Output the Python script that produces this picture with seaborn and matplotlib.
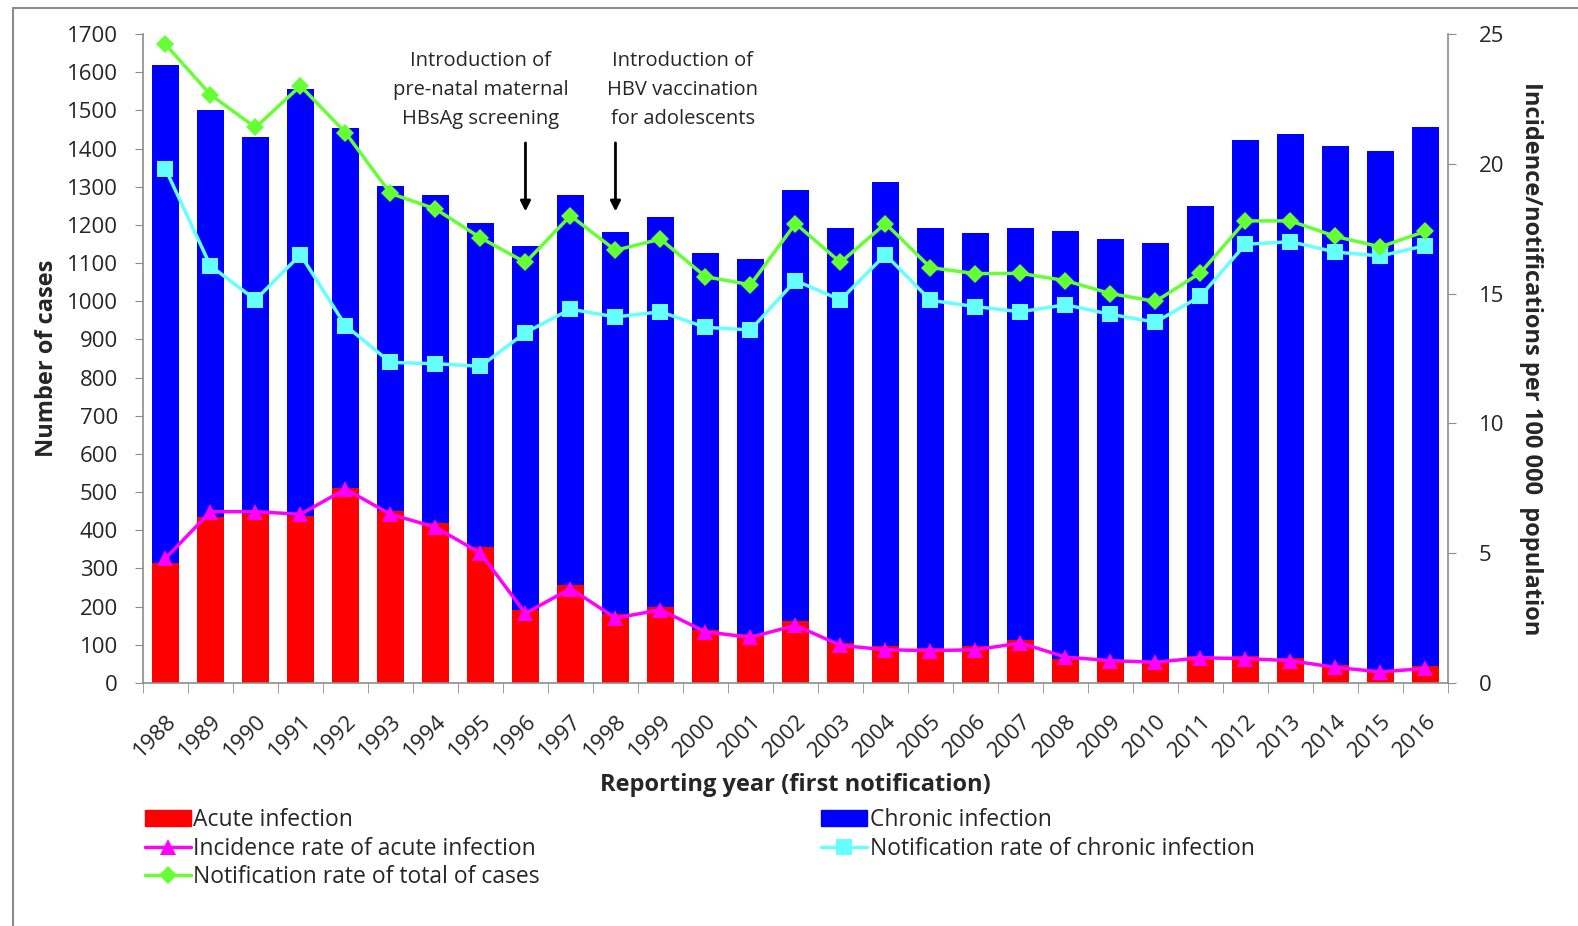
import matplotlib
matplotlib.use('Agg')
import matplotlib.pyplot as plt
import matplotlib.lines as mlines
import matplotlib.patches as mpatches
import seaborn as sns
import numpy as np
import pandas as pd

years = [str(y) for y in range(1988, 2017)]
acute = [314, 436, 442, 438, 512, 450, 419, 355, 192, 256, 180, 200, 140, 128, 163,
         105, 97, 93, 97, 113, 64, 60, 58, 70, 72, 66, 46, 29, 45]
total = [1618, 1501, 1429, 1555, 1455, 1303, 1277, 1206, 1145, 1279, 1181, 1221, 1127,
         1110, 1292, 1192, 1312, 1192, 1178, 1192, 1184, 1162, 1153, 1249, 1422, 1438,
         1407, 1393, 1457]
rate_acute = [4.8, 6.6, 6.6, 6.5, 7.47, 6.5, 6.0, 5.0, 2.68, 3.64, 2.5, 2.82, 1.97, 1.76,
              2.22, 1.45, 1.28, 1.25, 1.28, 1.54, 1.0, 0.86, 0.8, 0.97, 0.94, 0.86, 0.6,
              0.43, 0.56]
rate_chronic = [19.8, 16.07, 14.76, 16.5, 13.77, 12.35, 12.3, 12.2, 13.5, 14.4, 14.1,
                14.3, 13.7, 13.6, 15.5, 14.76, 16.5, 14.74, 14.5, 14.3, 14.57, 14.2, 13.9,
                14.9, 16.9, 17.0, 16.6, 16.45, 16.85]
rate_total = [24.6, 22.66, 21.4, 23.0, 21.2, 18.86, 18.26, 17.15, 16.2, 18.0, 16.67, 17.1,
              15.65, 15.34, 17.7, 16.2, 17.7, 16.0, 15.77, 15.78, 15.5, 15.0, 14.7, 15.8,
              17.8, 17.8, 17.2, 16.8, 17.4]

df = pd.DataFrame({'year': years, 'acute': acute, 'total': total,
                   'rate_acute': rate_acute, 'rate_chronic': rate_chronic,
                   'rate_total': rate_total})
df['pos'] = np.arange(len(df))

sns.set_style('white')
plt.rcParams['font.family'] = ['Open Sans', 'DejaVu Sans']

RED = '#FF0000'
BLUE = '#0000FF'
MAGENTA = '#FF00FF'
CYAN = '#66FFFF'
GREEN = '#66FF33'
GREY = '#8C8C8C'

fig = plt.figure(figsize=(15.78, 9.26), dpi=100)
ax = fig.add_axes([0.0906, 0.2624, 0.8270, 0.7009])

# stacked bars: chronic on top of acute, so draw the total in blue first
sns.barplot(data=df, x='year', y='total', color=BLUE, width=0.6, saturation=1,
            ax=ax, linewidth=0)
sns.barplot(data=df, x='year', y='acute', color=RED, width=0.6, saturation=1,
            ax=ax, linewidth=0)
ax.set_xlim(-0.5, len(years) - 0.5)
ax.set_ylim(0, 1700)
ax.set_yticks(range(0, 1701, 100))

ax2 = ax.twinx()
sns.lineplot(data=df, x='pos', y='rate_acute', color=MAGENTA, marker='^', markersize=12,
             markeredgewidth=0, linewidth=2.5, ax=ax2)
sns.lineplot(data=df, x='pos', y='rate_chronic', color=CYAN, marker='s', markersize=12,
             markeredgewidth=0, linewidth=2.5, ax=ax2)
sns.lineplot(data=df, x='pos', y='rate_total', color=GREEN, marker='D', markersize=9,
             markeredgewidth=0, linewidth=2.5, ax=ax2)
ax2.set_ylim(0, 25)
ax2.set_yticks(range(0, 26, 5))
ax2.set_xlim(-0.5, len(years) - 0.5)

for a in (ax, ax2):
    for s in a.spines.values():
        s.set_color(GREY)
        s.set_linewidth(1.2)
    a.spines['top'].set_visible(False)
ax.spines['right'].set_visible(False)
ax2.spines['left'].set_visible(False)
ax2.spines['bottom'].set_visible(False)

ax.tick_params(axis='y', direction='out', length=6, color=GREY, labelsize=16, pad=12, left=True)
ax2.tick_params(axis='y', direction='out', length=6, color=GREY, labelsize=16, pad=16, right=True)
ax.set_xticks(np.arange(len(years)))
ax.set_xticklabels(years, rotation=45, ha='right', rotation_mode='anchor', fontsize=16)
ax.set_xticks(np.arange(-0.5, len(years)), minor=True)
ax.tick_params(axis='x', which='major', length=0, pad=20)
ax.tick_params(axis='x', which='minor', length=7, color=GREY, direction='out', bottom=True)

ax.set_xlabel('Reporting year (first notification)', fontsize=17, fontweight='bold', labelpad=8)
ax.set_ylabel('Number of cases', fontsize=17, fontweight='bold', labelpad=6)
ax2.set_ylabel('Incidence/notifications per 100 000  population', fontsize=17,
               fontweight='bold', rotation=-90, labelpad=28)

# policy annotations
ax.annotate('', xy=(8, 1228), xytext=(8, 1422),
            arrowprops=dict(arrowstyle='-|>', color='black', lw=2, mutation_scale=15))
ax.annotate('', xy=(10, 1228), xytext=(10, 1422),
            arrowprops=dict(arrowstyle='-|>', color='black', lw=2, mutation_scale=15))
ax.text(7, 1553, 'Introduction of\npre-natal maternal\nHBsAg screening', ha='center',
        va='center', fontsize=14.5, linespacing=1.6)
ax.text(11.5, 1553, 'Introduction of\nHBV vaccination\nfor adolescents', ha='center',
        va='center', fontsize=14.5, linespacing=1.6)

handles = [
    mpatches.Patch(color=RED, label='Acute infection'),
    mlines.Line2D([], [], color=MAGENTA, marker='^', markersize=12, markeredgewidth=0,
                  lw=2.5, label='Incidence rate of acute infection'),
    mlines.Line2D([], [], color=GREEN, marker='D', markersize=9, markeredgewidth=0,
                  lw=2.5, label='Notification rate of total of cases'),
    mpatches.Patch(color=BLUE, label='Chronic infection'),
    mlines.Line2D([], [], color=CYAN, marker='s', markersize=12, markeredgewidth=0,
                  lw=2.5, label='Notification rate of chronic infection'),
]
fig.legend(handles=handles, ncol=2, loc='upper left', bbox_to_anchor=(0.086, 0.137),
           frameon=False, fontsize=16.5, handlelength=2.0, handletextpad=0.1,
           columnspacing=12.3, labelspacing=0.2, borderaxespad=0)

# outer chart frame
fig.add_artist(plt.Rectangle((13 / 1578, -0.1), 1.2, 1.1 - 8 / 926, transform=fig.transFigure,
                             fill=False, edgecolor=GREY, linewidth=1.5))

fig.savefig('out.png', dpi=100, facecolor='white')
